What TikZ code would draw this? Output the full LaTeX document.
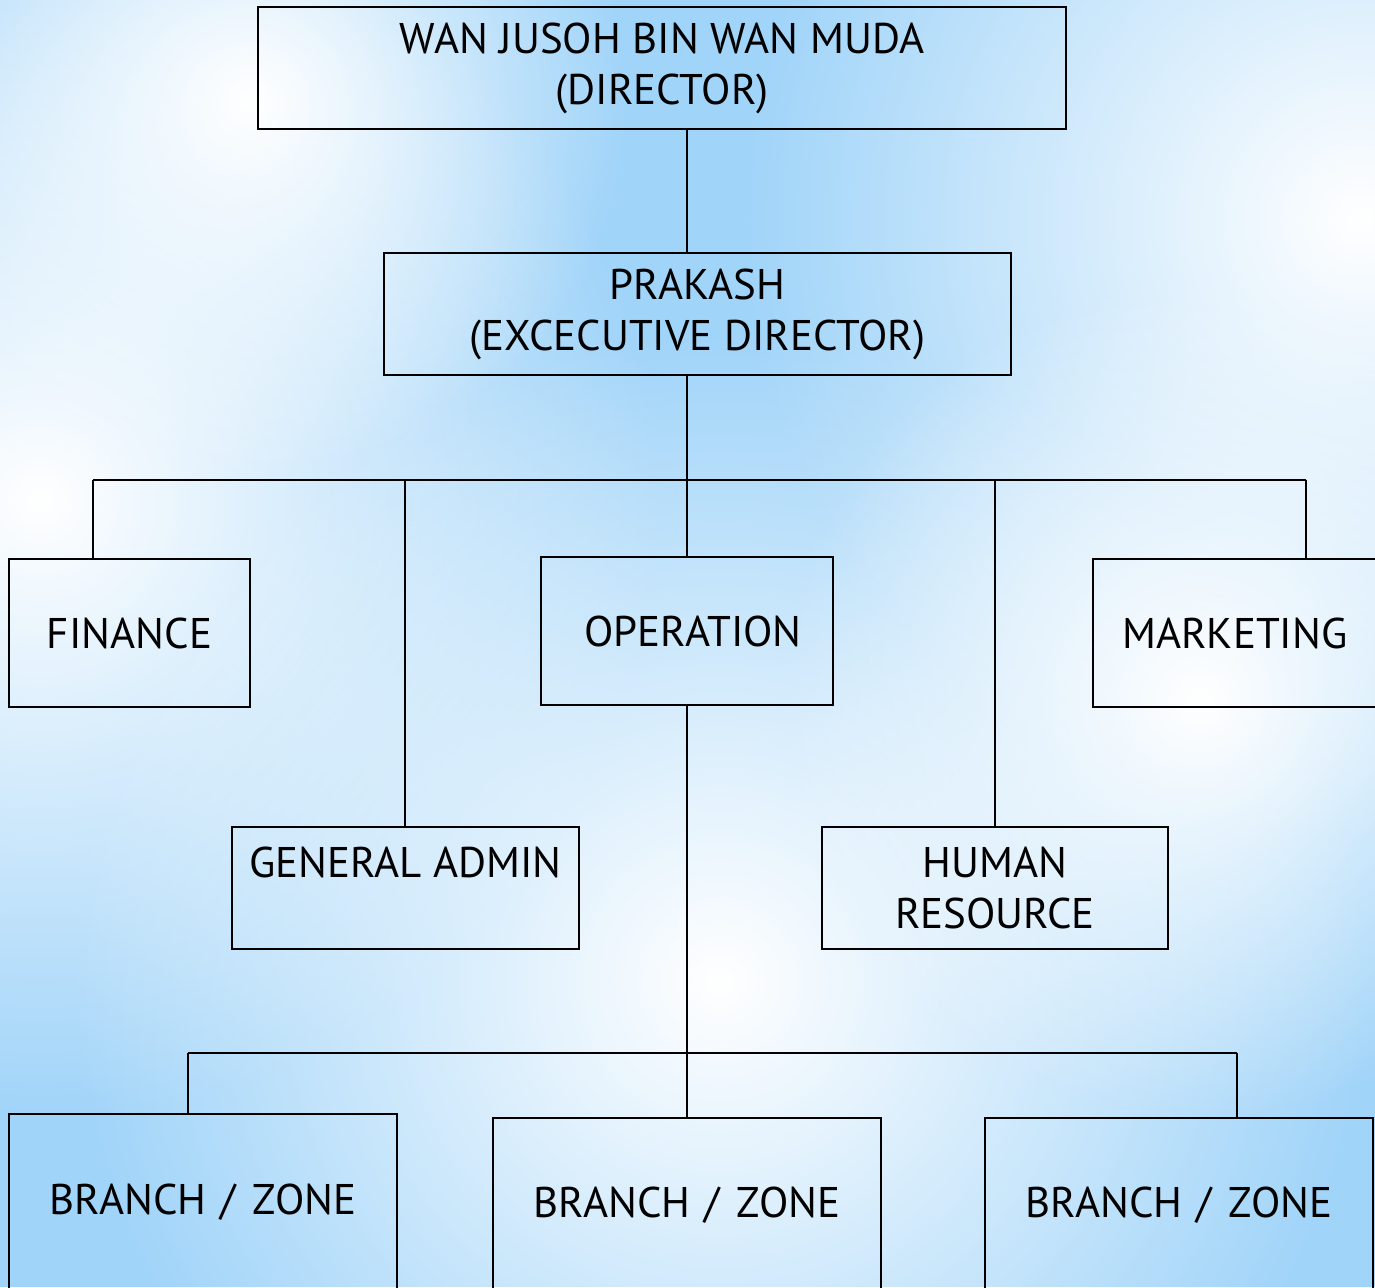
\documentclass[tikz,border=0pt]{standalone}
\usepackage{fontspec}
\setmainfont{PT Sans}
\usetikzlibrary{positioning}
\usetikzlibrary{fadings}
\definecolor{skyblue}{RGB}{160,212,249}
\tikzfading[name=glowfade, inner color=transparent!0, outer color=transparent!100]
\newcommand{\glow}[3]{\fill[white, path fading=glowfade] (#1,#2) circle (#3);}
\newcommand{\branchzone}{BRANCH\hspace{0.14cm}/\hspace{0.17cm}ZONE}
\tikzset{
	unit/.style = {draw = black, line width = 0.6pt, align = center, inner sep = 0pt,
		font = \fontsize{12.2}{14.5}\selectfont},
	link/.style = {draw = black, line width = 0.6pt}
}

\begin{document}
\begin{tikzpicture}[x = 0.01cm, y = -0.01cm]

					\useasboundingbox (0,0) rectangle (1375,1287);
					\clip (0,0) rectangle (1375,1287);

					\fill[skyblue] (0,0) rectangle (1375,1287);
					\glow{40}{500}{620}
					\glow{720}{980}{650}
					\glow{1360}{220}{620}
					\glow{1200}{700}{420}
					\glow{250}{100}{380}

					\node[unit, minimum width = 8.08cm, minimum height = 1.22cm] (director) at (662,68)
						{WAN JUSOH BIN WAN MUDA\\(DIRECTOR)};
					\node[unit, minimum width = 6.27cm, minimum height = 1.22cm] (prakash) at (697.5,314)
						{PRAKASH\\(EXCECUTIVE DIRECTOR)};

					\node[unit, minimum width = 2.41cm, minimum height = 1.48cm] (finance) at (129.5,633) {FINANCE};
					\node[unit, minimum width = 2.92cm, minimum height = 1.48cm, text width = 2.92cm] (operation) at (687,631)
						{\hspace*{0.12cm}OPERATION};
					\node[unit, minimum width = 2.84cm, minimum height = 1.48cm] (marketing) at (1235,633) {MARKETING};
					\node[unit, minimum width = 3.47cm, minimum height = 1.22cm] (admin) at (405.5,888)
						{GENERAL ADMIN\\\phantom{G}};
					\node[unit, minimum width = 3.46cm, minimum height = 1.22cm] (human) at (995,888)
						{HUMAN\\RESOURCE};

					\node[unit, minimum width = 3.88cm, minimum height = 1.76cm] (branchA) at (203,1202) {\branchzone};
					\node[unit, minimum width = 3.88cm, minimum height = 1.74cm] (branchB) at (687,1205) {\branchzone};
					\node[unit, minimum width = 3.88cm, minimum height = 1.74cm] (branchC) at (1179,1205) {\branchzone};

					\coordinate (spine) at (687,480);
					\coordinate (busL) at (93,480);
					\coordinate (busA) at (405,480);
					\coordinate (busB) at (995,480);
					\coordinate (busR) at (1306,480);
					\coordinate (fork) at (687,1053);
					\coordinate (forkL) at (188,1053);
					\coordinate (forkR) at (1237,1053);

					\draw[link] (director.south -| spine) -- (prakash.north -| spine);
					\draw[link] (prakash.south -| spine) -- (spine);
					\draw[link] (busL) -- (busR);
					\draw[link] (busL) -- (finance.north -| busL);
					\draw[link] (busA) -- (admin.north -| busA);
					\draw[link] (spine) -- (operation.north);
					\draw[link] (busB) -- (human.north);
					\draw[link] (busR) -- (marketing.north -| busR);

					\draw[link] (operation.south) -- (fork);
					\draw[link] (forkL) -- (forkR);
					\draw[link] (forkL) -- (branchA.north -| forkL);
					\draw[link] (fork) -- (branchB.north);
					\draw[link] (forkR) -- (branchC.north -| forkR);

\end{tikzpicture}
\end{document}
